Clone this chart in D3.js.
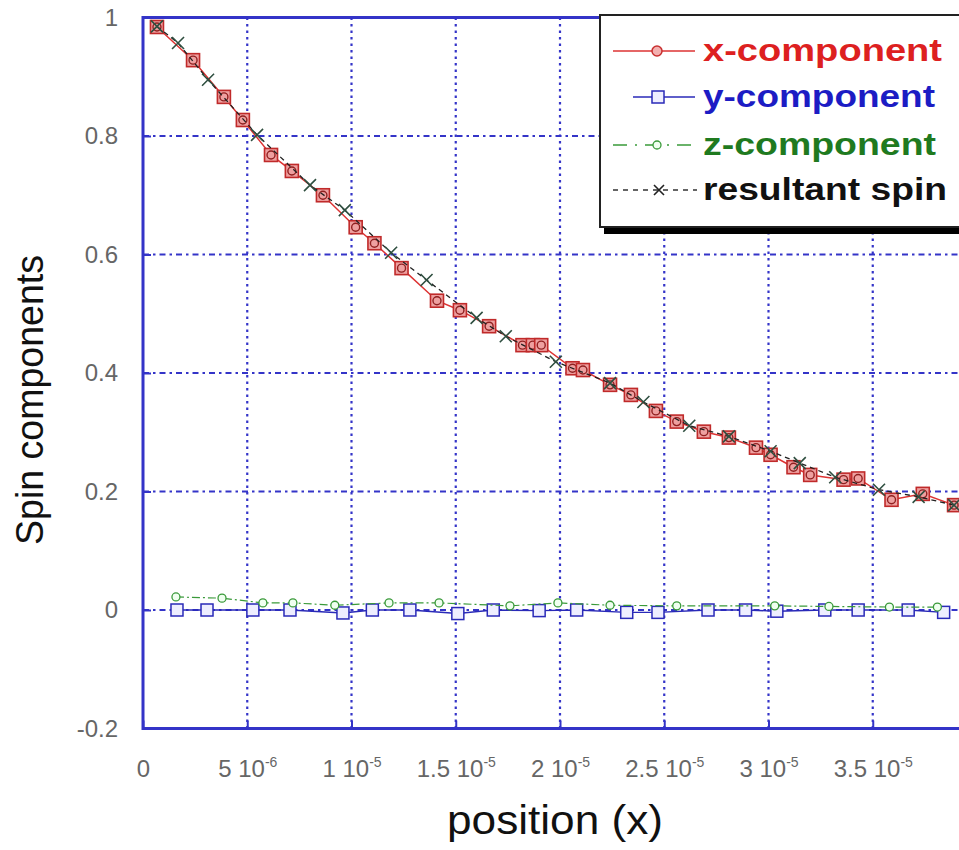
<!DOCTYPE html>
<html>
<head>
<meta charset="utf-8">
<script src="https://cdn.jsdelivr.net/npm/d3@7"></script>
<style>
  body { margin: 0; background: #fff; }
  svg { display: block; font-family: Arial, "Liberation Sans", sans-serif; }
</style>
</head>
<body>
<svg id="chart" width="959" height="850"></svg>
<script>
// positions are in units of 1e-6
var xCompPos = [0.67, 2.40, 3.88, 4.79, 6.14, 7.14, 8.63, 10.2, 11.1, 12.4, 14.1, 15.2, 16.6, 18.2, 18.7, 19.1, 20.6, 21.1, 22.4, 23.4, 24.6, 25.6, 26.9, 28.1, 29.4, 30.1, 31.2, 32.0, 33.6, 34.3, 35.9, 37.4, 38.9];
var xCompVal = [0.984, 0.928, 0.866, 0.827, 0.768, 0.741, 0.700, 0.646, 0.619, 0.577, 0.522, 0.506, 0.479, 0.447, 0.447, 0.447, 0.408, 0.405, 0.380, 0.363, 0.336, 0.318, 0.301, 0.291, 0.274, 0.262, 0.241, 0.228, 0.220, 0.222, 0.186, 0.196, 0.177];

var yCompPos = [1.63, 3.07, 5.27, 7.05, 9.59, 11.0, 12.8, 15.1, 16.8, 19.0, 20.8, 23.2, 24.7, 27.1, 28.9, 30.4, 32.7, 34.3, 36.7, 38.4];
var yCompVal = [0, 0, 0, 0, -0.005, 0, 0, -0.006, 0, -0.001, 0, -0.004, -0.004, 0, 0, -0.002, 0, 0, 0, -0.004];

var zCompPos = [1.58, 3.79, 5.75, 7.19, 9.20, 11.8, 14.2, 17.6, 19.9, 22.4, 25.6, 30.3, 32.9, 35.8, 38.1];
var zCompVal = [0.022, 0.020, 0.012, 0.012, 0.008, 0.012, 0.012, 0.007, 0.012, 0.008, 0.007, 0.007, 0.006, 0.005, 0.005];

var resPos = [0.67, 1.68, 3.12, 5.47, 8.01, 9.68, 11.9, 13.6, 16.0, 17.4, 19.8, 22.4, 24.0, 26.2, 28.1, 30.1, 31.5, 33.2, 35.3, 37.2, 38.9];
var resVal = [0.985, 0.957, 0.895, 0.802, 0.717, 0.675, 0.603, 0.557, 0.493, 0.462, 0.419, 0.383, 0.351, 0.311, 0.293, 0.268, 0.248, 0.224, 0.203, 0.191, 0.177];

var xTickValues = [0, 5, 10, 15, 20, 25, 30, 35];
var xTickMantissa = ["0", "5", "1", "1.5", "2", "2.5", "3", "3.5"];
var xTickExponent = ["", "-6", "-5", "-5", "-5", "-5", "-5", "-5"];
var yTickValues = [-0.2, 0, 0.2, 0.4, 0.6, 0.8, 1];
var yTickLabels = ["-0.2", "0", "0.2", "0.4", "0.6", "0.8", "1"];
var legendLabels = ["x-component", "y-component", "z-component", "resultant spin"];

var svg = d3.select('#chart');
var blue = "#3434c8";

var x = d3.scaleLinear().domain([0, 40]).range([143, 977]);
var y = d3.scaleLinear().domain([-0.2, 1]).range([728.5, 17.5]);

function zip(xs, ys) {
    return xs.map(function (d, i) { return [d, ys[i]]; });
}

svg.append('defs').append('clipPath').attr('id', 'plotclip')
    .append('rect')
    .attr('x', x(0)).attr('y', y(1))
    .attr('width', x(40) - x(0)).attr('height', y(-0.2) - y(1));

// grid
var grid = svg.append('g');
grid.selectAll('line.vg').data(xTickValues.slice(1)).enter().append('line')
    .attr('class', 'vg')
    .attr('x1', function (d) { return x(d); })
    .attr('x2', function (d) { return x(d); })
    .attr('y1', y(1)).attr('y2', y(-0.2))
    .attr('stroke', blue).attr('stroke-width', 2.2)
    .attr('stroke-dasharray', '2.5,4');
grid.selectAll('line.hg').data([0, 0.2, 0.4, 0.6, 0.8]).enter().append('line')
    .attr('class', 'hg')
    .attr('y1', function (d) { return y(d); })
    .attr('y2', function (d) { return y(d); })
    .attr('x1', x(0)).attr('x2', x(40))
    .attr('stroke', blue).attr('stroke-width', 2)
    .attr('stroke-dasharray', '6,4,2.5,4');

// axes
var yAxis = d3.axisLeft(y).tickValues(yTickValues)
    .tickFormat(function (d, i) { return yTickLabels[i]; })
    .tickSizeInner(-8).tickSizeOuter(0).tickPadding(25);
var gy = svg.append('g').attr('transform', 'translate(' + x(0) + ',0)').call(yAxis);
gy.select('.domain').remove();
gy.selectAll('line').attr('stroke', blue).attr('stroke-width', 2);
gy.selectAll('text').attr('font-size', 24).attr('fill', '#666')
    .attr('font-family', 'Arial, "Liberation Sans", sans-serif');

var xAxis = d3.axisBottom(x).tickValues(xTickValues).tickFormat('')
    .tickSizeInner(-8).tickSizeOuter(0);
var gx = svg.append('g').attr('transform', 'translate(0,' + y(-0.2) + ')').call(xAxis);
gx.select('.domain').remove();
gx.selectAll('line').attr('stroke', blue).attr('stroke-width', 2);
gx.selectAll('.tick text').each(function (d, i) {
    var t = d3.select(this)
        .attr('y', 48).attr('dy', null)
        .attr('font-size', 24).attr('fill', '#666')
        .attr('font-family', 'Arial, "Liberation Sans", sans-serif');
    t.text(null);
    t.append('tspan').text(xTickMantissa[i] + (xTickExponent[i] ? ' 10' : ''));
    if (xTickExponent[i]) {
        t.append('tspan').attr('dy', -10).attr('font-size', 14).text(xTickExponent[i]);
    }
});

// series
var plot = svg.append('g').attr('clip-path', 'url(#plotclip)');
var line = d3.line().x(function (d) { return x(d[0]); }).y(function (d) { return y(d[1]); });

var xData = zip(xCompPos, xCompVal);
var yData = zip(yCompPos, yCompVal);
var zData = zip(zCompPos, zCompVal);
var rData = zip(resPos, resVal);

plot.append('path').datum(xData).attr('d', line)
    .attr('fill', 'none').attr('stroke', '#d33').attr('stroke-width', 1.5);
var xm = plot.selectAll('g.xm').data(xData).enter().append('g')
    .attr('transform', function (d) { return 'translate(' + x(d[0]) + ',' + y(d[1]) + ')'; });
xm.append('rect').attr('x', -6.5).attr('y', -6.5).attr('width', 13).attr('height', 13)
    .attr('fill', '#eea0a0').attr('stroke', '#c02a2a').attr('stroke-width', 1.6);
xm.append('circle').attr('r', 4).attr('fill', 'none').attr('stroke', '#902020').attr('stroke-width', 1.4);

plot.append('path').datum(yData).attr('d', line)
    .attr('fill', 'none').attr('stroke', '#2a2ab8').attr('stroke-width', 1.4);
plot.selectAll('rect.ym').data(yData).enter().append('rect')
    .attr('class', 'ym')
    .attr('x', function (d) { return x(d[0]) - 6; })
    .attr('y', function (d) { return y(d[1]) - 6; })
    .attr('width', 12).attr('height', 12)
    .attr('fill', '#eef').attr('stroke', '#2a2ab8').attr('stroke-width', 1.5);

plot.append('path').datum(zData).attr('d', line)
    .attr('fill', 'none').attr('stroke', '#3a9a3a').attr('stroke-width', 1.2)
    .attr('stroke-dasharray', '8,3,2,3');
plot.selectAll('circle.zm').data(zData).enter().append('circle')
    .attr('class', 'zm')
    .attr('cx', function (d) { return x(d[0]); })
    .attr('cy', function (d) { return y(d[1]); })
    .attr('r', 4)
    .attr('fill', '#f0fff0').attr('stroke', '#3a9a3a').attr('stroke-width', 1.3);

plot.append('path').datum(rData).attr('d', line)
    .attr('fill', 'none').attr('stroke', '#222').attr('stroke-width', 1.3)
    .attr('stroke-dasharray', '5,4');
plot.selectAll('path.rm').data(rData).enter().append('path')
    .attr('class', 'rm')
    .attr('d', function (d) {
        var cx = x(d[0]), cy = y(d[1]), s = 6;
        return 'M' + (cx - s) + ',' + (cy - s) + 'L' + (cx + s) + ',' + (cy + s) +
            'M' + (cx - s) + ',' + (cy + s) + 'L' + (cx + s) + ',' + (cy - s);
    })
    .attr('stroke', '#2f4f40').attr('stroke-width', 1.6);

// plot frame
svg.append('rect')
    .attr('x', x(0)).attr('y', y(1))
    .attr('width', x(40) - x(0)).attr('height', y(-0.2) - y(1))
    .attr('fill', 'none').attr('stroke', blue).attr('stroke-width', 3);

// axis titles
svg.append('text')
    .attr('x', 555).attr('y', 834)
    .attr('text-anchor', 'middle')
    .attr('font-size', 40).attr('fill', '#111')
    .attr('textLength', 216).attr('lengthAdjust', 'spacingAndGlyphs')
    .text('position (x)');
svg.append('text')
    .attr('transform', 'translate(43,400) rotate(-90)')
    .attr('text-anchor', 'middle')
    .attr('font-size', 38).attr('fill', '#111')
    .attr('textLength', 290).attr('lengthAdjust', 'spacingAndGlyphs')
    .text('Spin components');

// legend
var legendColors = ['#dd2020', '#1c1cc4', '#1f7a1f', '#111'];
var legendBaselines = [61, 107, 155, 200];
var legendWidths = [239, 232, 233, 244];
var lg = svg.append('g');
lg.append('rect').attr('x', 604).attr('y', 22).attr('width', 400).attr('height', 212).attr('fill', '#000');
lg.append('rect').attr('x', 600).attr('y', 15).attr('width', 400).attr('height', 212)
    .attr('fill', '#fff').attr('stroke', '#222').attr('stroke-width', 2);

var rows = lg.selectAll('g.row').data(legendLabels).enter().append('g')
    .attr('transform', function (d, i) { return 'translate(0,' + legendBaselines[i] + ')'; });
rows.append('text')
    .attr('x', 703)
    .attr('font-size', 31).attr('font-weight', 'bold')
    .attr('fill', function (d, i) { return legendColors[i]; })
    .attr('textLength', function (d, i) { return legendWidths[i]; })
    .attr('lengthAdjust', 'spacingAndGlyphs')
    .text(function (d) { return d; });

// legend samples
var r0 = d3.select(rows.nodes()[0]);
r0.append('line').attr('x1', 613).attr('x2', 695).attr('y1', -10).attr('y2', -10)
    .attr('stroke', '#d33').attr('stroke-width', 1.5);
r0.append('circle').attr('cx', 657).attr('cy', -10).attr('r', 5)
    .attr('fill', '#f3b0b0').attr('stroke', '#c83030').attr('stroke-width', 1.5);

var r1 = d3.select(rows.nodes()[1]);
r1.append('line').attr('x1', 633).attr('x2', 695).attr('y1', -10).attr('y2', -10)
    .attr('stroke', '#2a2ab8').attr('stroke-width', 1.5);
r1.append('rect').attr('x', 652).attr('y', -16).attr('width', 12).attr('height', 12)
    .attr('fill', '#eef').attr('stroke', '#2a2ab8').attr('stroke-width', 1.5);

var r2 = d3.select(rows.nodes()[2]);
r2.append('line').attr('x1', 613).attr('x2', 695).attr('y1', -10).attr('y2', -10)
    .attr('stroke', '#3a9a3a').attr('stroke-width', 1.3).attr('stroke-dasharray', '14,8,2,8');
r2.append('circle').attr('cx', 657).attr('cy', -10).attr('r', 4)
    .attr('fill', '#f0fff0').attr('stroke', '#3a9a3a').attr('stroke-width', 1.3);

var r3 = d3.select(rows.nodes()[3]);
r3.append('line').attr('x1', 613).attr('x2', 697).attr('y1', -10).attr('y2', -10)
    .attr('stroke', '#333').attr('stroke-width', 1.5).attr('stroke-dasharray', '5,5');
r3.append('path')
    .attr('d', 'M654,-15L664,-5M654,-5L664,-15')
    .attr('stroke', '#222').attr('stroke-width', 1.6);
</script>
</body>
</html>
